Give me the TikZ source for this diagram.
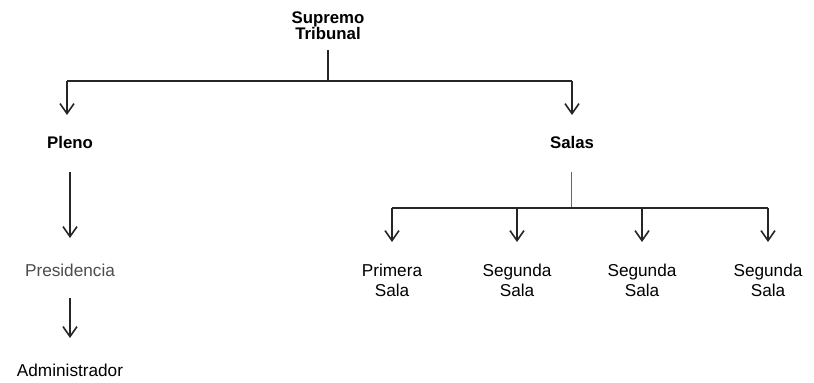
\documentclass[tikz,border=0pt]{standalone}
\usepackage{fontspec}
\setmainfont{Liberation Sans}
\usetikzlibrary{arrows.meta}
\begin{document}
\begin{tikzpicture}[x=0.5pt,y=-0.5pt,
  lbl/.style={font=\fontsize{8.6}{10}\selectfont, align=center, inner sep=0pt},
  blbl/.style={lbl, font=\fontsize{8.4}{9}\selectfont\bfseries},
  conn/.style={line width=0.8pt, black!85},
  arr/.style={conn, -{Straight Barb[length=5pt,width=7pt,line width=0.8pt]}}]
\useasboundingbox (0,0) rectangle (814,383);
\node[blbl] (st) at (328,26) {Supremo\\[-1pt]Tribunal};
\node[blbl] (pleno) at (70,143) {Pleno};
\node[blbl] (salas) at (572,143) {Salas};
\node[lbl, text=black!70] (pres) at (70,270) {Presidencia};
\node[lbl] (adm) at (70,370) {Administrador};
\node[lbl] (s1) at (392,280) {Primera\\Sala};
\node[lbl] (s2) at (517,280) {Segunda\\Sala};
\node[lbl] (s3) at (642,280) {Segunda\\Sala};
\node[lbl] (s4) at (768,280) {Segunda\\Sala};
\coordinate (j1) at (328,81);
\coordinate (jl) at (67,81);
\coordinate (jr) at (572,81);
\coordinate (j2) at (571,208);
\draw[conn] (328,50) -- (j1);
\draw[conn] (jl) -- (jr);
\draw[arr] (jl) -- (67,115);
\draw[arr] (jr) -- (572,115);
\draw[arr] (70,172) -- (70,238);
\draw[arr] (70,298) -- (70,338);
\draw[line width=0.4pt, black!60] (571,172) -- (j2);
\draw[conn] (392,208) -- (768,208);
\foreach \x in {392,517,642,768}{
  \draw[arr] (\x,208) -- (\x,242);
}
\end{tikzpicture}
\end{document}
